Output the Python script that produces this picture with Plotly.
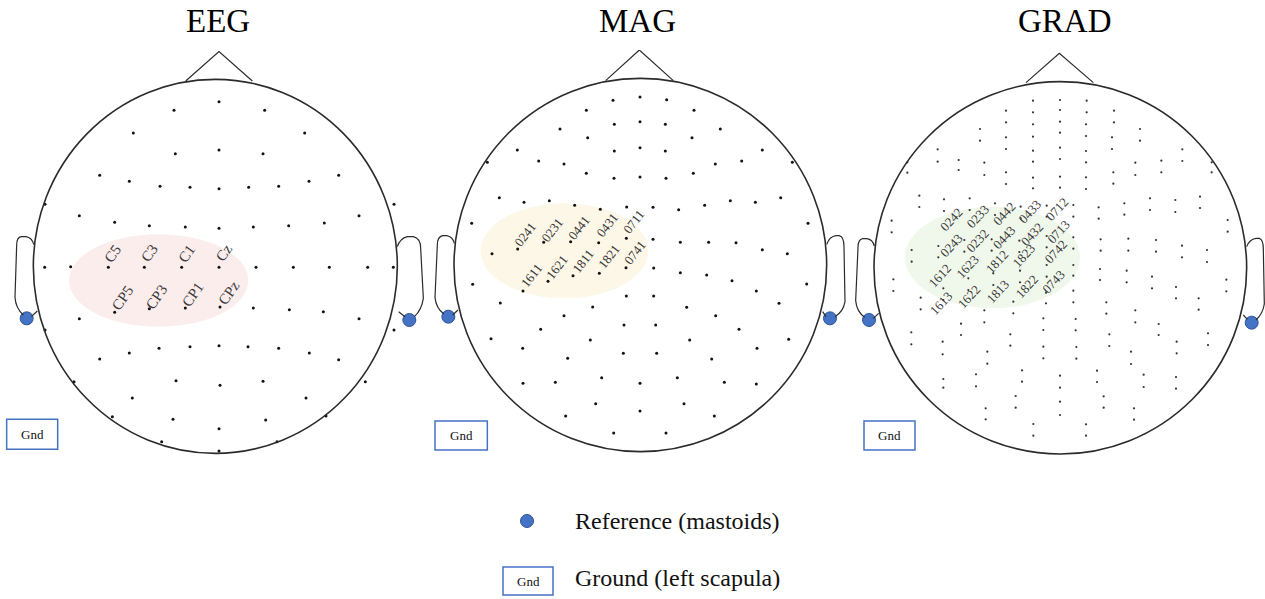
import plotly.graph_objects as go

W, H = 1265, 599
SERIF = "Liberation Serif, Times New Roman, serif"

# ---------------- data (local panel units: 3 units = 1 px, origin = panel corner) ----------------
panel_names = ["EEG", "MAG", "GRAD"]

eeg_x = [657, 522, 794, 400, 914, 526, 657, 789,
         299, 388, 480, 570, 657, 746, 836, 927, 1016,
         135, 1182,
         238, 344, 448, 556, 657, 760, 866, 973, 1077,
         134, 212, 325, 433, 545, 657, 768, 880, 988, 1103, 1180,
         238, 344, 448, 556, 660, 760, 868, 970, 1077,
         135, 1182,
         299, 388, 477, 570, 657, 744, 836, 928, 1016,
         222, 1096, 528, 660, 789, 397, 918, 337, 978,
         519, 657, 797, 485, 831, 657]
eeg_y = [155, 181, 181, 249, 249, 311, 300, 311,
         376, 394, 409, 412, 416, 412, 409, 394, 376,
         463, 463,
         497, 517, 527, 531, 535, 531, 527, 519, 497,
         652, 650, 652, 652, 652, 652, 652, 652, 652, 652, 652,
         806, 787, 776, 774, 771, 774, 779, 785, 806,
         840, 840,
         927, 909, 895, 890, 887, 890, 895, 909, 929,
         995, 995, 992, 1006, 994, 1044, 1044, 1100, 1098,
         1108, 1136, 1110, 1175, 1175, 1203]

eeg_labels = ["C5", "C3", "C1", "Cz", "CP5", "CP3", "CP1", "CPz"]
eeg_label_x = [340, 449, 562, 672, 368, 470, 580, 686]
eeg_label_y = [610, 610, 610, 610, 745, 742, 733, 728]

mag_x = [630, 549, 710, 469, 792, 630, 553, 706, 390, 871, 473, 786,
         630, 553, 706, 262, 997, 172, 1087, 326, 402, 856, 935,
         469, 630, 552, 708, 790,
         208, 282, 358, 434, 511, 590, 669, 746, 824, 901, 976, 1052,
         125, 1134,
         263, 341, 422, 506, 589, 669, 751, 836, 918, 997, 1072, 186,
         128, 1130,
         279, 354, 429, 508, 588, 671, 751, 830, 906, 979,
         211, 1047, 488, 589, 671, 770, 402, 857,
         332, 582, 677, 927, 183, 1076,
         278, 481, 779, 981, 413, 580, 680, 845,
         279, 376, 515, 630, 742, 883, 979,
         497, 762, 407, 630, 853, 551, 708]
mag_y = [141, 151, 149, 181, 181, 215, 223, 223, 237, 237, 263, 263,
         293, 303, 303, 300, 300, 337, 337, 333, 342, 342, 333,
         370, 381, 385, 385, 370,
         443, 457, 452, 466, 478, 471, 472, 479, 466, 452, 457, 443,
         520, 520,
         597, 577, 575, 578, 565, 568, 577, 577, 578, 599, 611, 611,
         703, 702,
         723, 694, 677, 670, 653, 654, 668, 675, 692, 723,
         759, 760, 771, 738, 738, 772, 797, 797,
         838, 825, 825, 838, 866, 868,
         895, 870, 870, 895, 925, 910, 910, 927,
         1000, 997, 983, 1000, 983, 997, 1002,
         1061, 1061, 1098, 1083, 1098, 1149, 1149]

mag_labels = ["0241", "0231", "0441", "0431", "0711",
              "1611", "1621", "1811", "1821", "0741"]
mag_label_x = [285, 365, 448, 530, 612, 305, 380, 458, 537, 615]
mag_label_y = [553, 540, 533, 525, 515, 677, 652, 633, 620, 608]

grad_x = [549, 630, 710, 468, 792, 630, 549, 708, 390, 870, 468, 786,
          630, 549, 708, 263, 997, 172, 1085, 326, 403, 856, 934,
          468, 630, 549, 708, 790,
          208, 282, 359, 435, 512, 590, 670, 746, 823, 900, 976, 1050,
          125, 1133,
          265, 343, 425, 508, 590, 670, 752, 835, 918, 996, 1071, 185,
          130, 1129,
          280, 355, 430, 510, 590, 670, 750, 830, 906, 978,
          212, 1046, 490, 588, 670, 769, 403, 856,
          333, 580, 677, 926, 184, 1074,
          278, 481, 778, 980, 412, 580, 679, 843,
          280, 378, 516, 630, 741, 881, 978,
          497, 761, 407, 630, 852, 550, 708]
grad_top_y = [152, 150, 152, 182, 182, 215, 223, 223, 237, 237, 262, 262,
              293, 302, 303, 298, 298, 337, 337, 330, 338, 338, 332,
              367, 380, 383, 382, 367,
              437, 448, 445, 460, 470, 467, 465, 472, 460, 445, 450, 440,
              512, 510,
              588, 570, 568, 572, 558, 562, 568, 566, 570, 587, 600, 600,
              688, 689,
              715, 685, 670, 662, 645, 645, 657, 662, 680, 711,
              743, 745, 755, 728, 722, 757, 781, 781,
              821, 805, 807, 822, 847, 850,
              875, 853, 853, 875, 905, 890, 891, 905,
              987, 973, 961, 977, 962, 974, 981,
              1038, 1039, 1075, 1055, 1075, 1122, 1123]
grad_bot_y = [187, 180, 187, 217, 217, 248, 260, 258, 272, 272, 297, 297,
              327, 335, 337, 335, 333, 368, 367, 360, 375, 375, 367,
              402, 413, 415, 417, 401,
              471, 483, 480, 495, 505, 500, 500, 506, 494, 480, 486, 474,
              547, 545,
              622, 605, 602, 606, 592, 596, 602, 602, 605, 622, 636, 635,
              723, 724,
              750, 720, 705, 697, 680, 677, 690, 697, 715, 745,
              778, 779, 790, 760, 757, 791, 817, 817,
              855, 840, 841, 855, 883, 885,
              913, 887, 888, 910, 941, 925, 926, 942,
              1013, 1009, 995, 1013, 996, 1011, 1016,
              1073, 1073, 1108, 1095, 1109, 1157, 1157]

grad_labels = ["0242", "0233", "0442", "0433", "0712",
               "0243", "0232", "0443", "0432", "0713",
               "1612", "1623", "1812", "1823", "0742",
               "1613", "1622", "1813", "1822", "0743"]
grad_label_x = [303, 383, 463, 540, 620, 303, 382, 462, 545, 625,
                270, 352, 442, 522, 618, 272, 358, 443, 530, 610]
grad_label_y = [507, 500, 490, 485, 478, 585, 570, 562, 553, 543,
                677, 648, 635, 617, 605, 760, 740, 725, 710, 693]

# reference electrodes (mastoids), per panel: left, right
ref_x = [[80, 1228], [55, 1200], [57, 1205]]
ref_y = [[805, 810], [800, 805], [810, 818]]

legend_items = ["Reference (mastoids)", "Ground (left scapula)"]

# ---------------- geometry ----------------
# panel pixel boxes: x0, x1, y0(top), y1(bottom)
panels_px = [(0, 430, 50, 460), (430, 850, 50, 460), (850, 1265, 50, 460)]
heads = [(100, 88, 1192, 1210), (72, 85, 1190, 1205), (72, 95, 1190, 1212)]
noses = ["M 557 93 L 657 5 L 757 93", "M 527 92 L 628 0 L 730 92", "M 528 98 L 628 10 L 730 98"]
ears_left = [
    "M 101 583 Q 96 563 78 560 L 64 560 Q 50 562 50 585 L 45 742 Q 47 775 70 795 M 94 800 L 112 783",
    "M 73 580 Q 68 560 50 557 L 38 557 Q 22 560 22 585 L 15 742 Q 18 775 42 792 M 68 795 L 84 780",
    "M 73 588 Q 68 568 50 566 L 38 566 Q 24 568 24 593 L 17 752 Q 20 785 44 802 M 70 805 L 86 790"]
ears_right = [
    "M 1192 590 Q 1200 565 1222 560 L 1240 560 Q 1262 565 1262 595 L 1270 745 Q 1265 780 1243 800 M 1215 800 L 1196 785",
    "M 1190 583 Q 1198 560 1218 557 L 1228 557 Q 1242 560 1242 590 L 1245 755 Q 1240 785 1215 800 M 1188 800 L 1178 785",
    "M 1190 590 Q 1198 568 1218 565 L 1228 565 Q 1240 568 1240 598 L 1243 762 Q 1238 792 1218 810 M 1192 808 L 1180 795"]
ellipses = [(207, 553, 745, 830), (152, 460, 655, 745), (165, 470, 690, 775)]
ellipse_colors = ["rgb(252,237,237)", "rgb(253,247,232)", "rgb(240,248,236)"]
gnd_boxes = [(20, 1108, 173, 1198), (15, 1113, 172, 1200), (42, 1113, 195, 1200)]
title_px = [(218, 21), (637, 21), (1065, 21)]

def px2paper(x, y):
    return x / W, 1 - y / H

fig = go.Figure()
shapes = []
annotations = []
BLUE = "#4472C4"

label_sets = [(eeg_labels, eeg_label_x, eeg_label_y, -55, 15),
              (mag_labels, mag_label_x, mag_label_y, -52, 13),
              (grad_labels, grad_label_x, grad_label_y, -47, 13)]

for i in range(3):
    sfx = "" if i == 0 else str(i + 1)
    xr, yr = "x" + sfx, "y" + sfx
    x0, x1, y0, y1 = panels_px[i]
    xa = dict(domain=[x0 / W, x1 / W], range=[0, (x1 - x0) * 3], visible=False,
              fixedrange=True, anchor=yr)
    ya = dict(domain=[1 - y1 / H, 1 - y0 / H], range=[(y1 - y0) * 3, 0], visible=False,
              fixedrange=True, anchor=xr)
    fig.layout["xaxis" + sfx] = xa
    fig.layout["yaxis" + sfx] = ya

    ex0, ey0, ex1, ey1 = ellipses[i]
    shapes.append(dict(type="circle", xref=xr, yref=yr, x0=ex0, y0=ey0, x1=ex1, y1=ey1,
                       fillcolor=ellipse_colors[i], line=dict(width=0), layer="below"))
    hx0, hy0, hx1, hy1 = heads[i]
    shapes.append(dict(type="circle", xref=xr, yref=yr, x0=hx0, y0=hy0, x1=hx1, y1=hy1,
                       line=dict(color="#2b2b2b", width=1.6)))
    for p in (noses[i], ears_left[i], ears_right[i]):
        shapes.append(dict(type="path", xref=xr, yref=yr, path=p,
                           line=dict(color="#2b2b2b", width=1.2)))
    gx0, gy0, gx1, gy1 = gnd_boxes[i]
    shapes.append(dict(type="rect", xref=xr, yref=yr, x0=gx0, y0=gy0, x1=gx1, y1=gy1,
                       line=dict(color=BLUE, width=1.5), fillcolor="white"))
    annotations.append(dict(xref=xr, yref=yr, x=(gx0 + gx1) / 2, y=(gy0 + gy1) / 2,
                            text="Gnd", showarrow=False,
                            font=dict(family=SERIF, size=13, color="#111")))

    # electrodes
    if i == 0:
        fig.add_trace(go.Scatter(x=eeg_x, y=eeg_y, mode="markers", xaxis=xr, yaxis=yr,
                                 marker=dict(size=3, color="#111"), hoverinfo="skip"))
    elif i == 1:
        fig.add_trace(go.Scatter(x=mag_x, y=mag_y, mode="markers", xaxis=xr, yaxis=yr,
                                 marker=dict(size=3, color="#111"), hoverinfo="skip"))
    else:
        fig.add_trace(go.Scatter(x=grad_x, y=grad_top_y, mode="markers", xaxis=xr, yaxis=yr,
                                 marker=dict(size=2.2, color="#333"), hoverinfo="skip"))
        fig.add_trace(go.Scatter(x=grad_x, y=grad_bot_y, mode="markers", xaxis=xr, yaxis=yr,
                                 marker=dict(size=2.2, color="#333"), hoverinfo="skip"))
    fig.add_trace(go.Scatter(x=ref_x[i], y=ref_y[i], mode="markers", xaxis=xr, yaxis=yr,
                             marker=dict(size=13, color=BLUE, line=dict(color="#2F5597", width=1)),
                             hoverinfo="skip"))

    labs, lx, ly, ang, fs = label_sets[i]
    for t, ax_, ay_ in zip(labs, lx, ly):
        annotations.append(dict(xref=xr, yref=yr, x=ax_, y=ay_, text=t, showarrow=False,
                                textangle=ang, xanchor="center", yanchor="middle",
                                font=dict(family=SERIF, size=fs, color="#3a3a3a")))

    tx, ty = px2paper(*title_px[i])
    annotations.append(dict(xref="paper", yref="paper", x=tx, y=ty, text=panel_names[i],
                            showarrow=False, xanchor="center", yanchor="middle",
                            font=dict(family=SERIF, size=33, color="#000")))

# legend (drawn in pixel-mapped paper space)
cx, cy = px2paper(527, 521)
rx, ry = 6.5 / W, 6.5 / H
shapes.append(dict(type="circle", xref="paper", yref="paper", x0=cx - rx, x1=cx + rx,
                   y0=cy - ry, y1=cy + ry, fillcolor=BLUE, line=dict(color="#2F5597", width=1)))
bx0, by0 = px2paper(503, 567)
bx1, by1 = px2paper(553, 595)
shapes.append(dict(type="rect", xref="paper", yref="paper", x0=bx0, x1=bx1, y0=by1, y1=by0,
                   line=dict(color=BLUE, width=1.5), fillcolor="white"))
gx, gy = px2paper(528, 581)
annotations.append(dict(xref="paper", yref="paper", x=gx, y=gy, text="Gnd", showarrow=False,
                        xanchor="center", yanchor="middle",
                        font=dict(family=SERIF, size=13, color="#111")))
for txt, ypx in zip(legend_items, [521, 578]):
    lxp, lyp = px2paper(573, ypx)
    annotations.append(dict(xref="paper", yref="paper", x=lxp, y=lyp, text=txt, showarrow=False,
                            xanchor="left", yanchor="middle",
                            font=dict(family=SERIF, size=24, color="#111")))

fig.update_layout(width=W, height=H, margin=dict(l=0, r=0, t=0, b=0),
                  paper_bgcolor="white", plot_bgcolor="rgba(0,0,0,0)",
                  showlegend=False, shapes=shapes, annotations=annotations)
fig.write_html("out.html", config={"displayModeBar": False},
               post_script="document.body.style.margin='0';document.body.style.overflow='hidden';")
